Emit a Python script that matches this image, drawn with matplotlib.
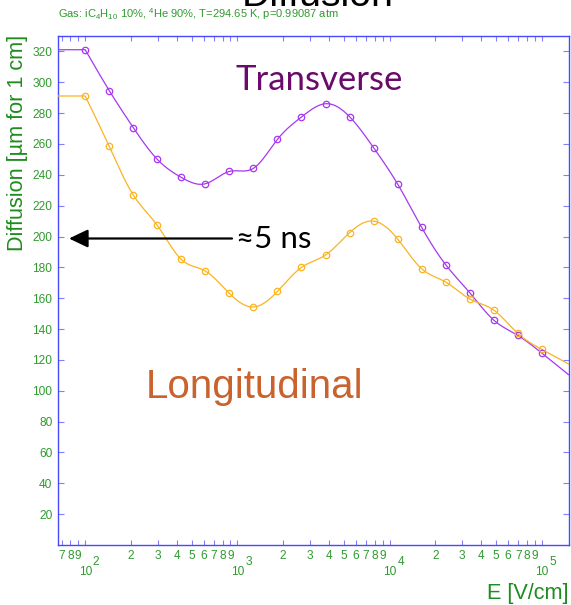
"""Diffusion vs E field (Garfield style plot), iC4H10/He gas mixture."""

import numpy as np
import matplotlib
matplotlib.use("Agg")
import matplotlib.pyplot as plt
from matplotlib.ticker import FixedLocator, NullFormatter, FixedFormatter
from matplotlib.transforms import blended_transform_factory

plt.rcParams['font.family'] = ['Liberation Sans', 'DejaVu Sans']
plt.rcParams['mathtext.fontset'] = 'custom'
plt.rcParams['mathtext.rm'] = 'Liberation Sans'
plt.rcParams['mathtext.it'] = 'Liberation Sans'

# data: 20 log-spaced fields 1e2 .. 1e5 V/cm
E_FIELD = np.logspace(2, 5, 20)
TRANSVERSE = [321.1, 294.6, 270.6, 250.0, 238.3, 234.2, 242.2, 244.2, 263.0, 277.5,
              286.1, 277.7, 257.6, 234.0, 205.9, 181.7, 163.6, 145.8, 135.9, 124.4]
LONGITUDINAL = [291.1, 258.4, 226.9, 207.2, 185.1, 177.6, 163.1, 154.3, 164.4, 180.0,
                188.0, 202.5, 210.0, 198.4, 179.1, 170.5, 159.5, 152.3, 137.2, 126.8]
Y_TICKS = list(range(20, 321, 20))
DECADES = [2, 3, 4, 5]

GREEN = '#2f9a2f'
DGREEN = '#1f8c1f'
C_TRANS = '#a638f0'
C_LONG = '#fbb322'
XMIN, XMAX = 100 / 1.5, 1e5 * 1.5


def natural_spline(x, y, xs):
    # cubic spline through the points, linear beyond the ends
    x = np.asarray(x, float); y = np.asarray(y, float)
    n = len(x); h = np.diff(x)
    A = np.zeros((n, n)); r = np.zeros(n)
    A[0, 0] = A[-1, -1] = 1
    for i in range(1, n - 1):
        A[i, i - 1] = h[i - 1]; A[i, i] = 2 * (h[i - 1] + h[i]); A[i, i + 1] = h[i]
        r[i] = 6 * ((y[i + 1] - y[i]) / h[i] - (y[i] - y[i - 1]) / h[i - 1])
    M = np.linalg.solve(A, r)
    out = np.empty_like(xs)
    for k, t in enumerate(xs):
        if t >= x[-1]:
            slope = (y[-1] - y[-2]) / h[-1] + h[-1] * (2 * M[-1] + M[-2]) / 6
            out[k] = y[-1] + slope * (t - x[-1]); continue
        i = min(max(np.searchsorted(x, t) - 1, 0), n - 2)
        a = x[i + 1] - t; b = t - x[i]
        out[k] = (M[i] * a**3 + M[i + 1] * b**3) / (6 * h[i]) + (y[i] / h[i] - M[i] * h[i] / 6) * a \
            + (y[i + 1] / h[i] - M[i + 1] * h[i] / 6) * b
    return out


fig = plt.figure(figsize=(5.71, 6.05), dpi=100)
ax = fig.add_axes([0.1023, 0.0992, 0.8935, 0.8413])

lx = np.log10(E_FIELD)
xs = np.linspace(lx[0], np.log10(XMAX), 400)
for vals, col in ((TRANSVERSE, C_TRANS), (LONGITUDINAL, C_LONG)):
    ys = natural_spline(lx, vals, xs)
    ax.plot(np.r_[XMIN, 10**xs], np.r_[vals[0], ys], color=col, lw=0.9, zorder=3)
    ax.plot(E_FIELD, vals, ls='none', marker='o', ms=4.6, mfc='none', mec=col, mew=0.9, zorder=4)

ax.set_xscale('log')
ax.set_xlim(XMIN, XMAX)
ax.set_ylim(0, 330)

# axis styling, ROOT-like
for sp in ax.spines.values():
    sp.set_color('#4848ff'); sp.set_linewidth(1.0)
ax.yaxis.set_major_locator(FixedLocator(Y_TICKS))
ax.yaxis.set_minor_locator(FixedLocator([]))
ax.tick_params(axis='y', which='major', direction='in', length=4, width=0.8, color='#8080ff',
               labelsize=8.6, labelcolor=GREEN, pad=4.4, right=True)

ax.xaxis.set_major_locator(FixedLocator([10**d for d in DECADES]))
ax.xaxis.set_major_formatter(NullFormatter())
minor = [m * 10**d for d in range(1, 5) for m in range(2, 10) if XMIN < m * 10**d < XMAX]
ax.xaxis.set_minor_locator(FixedLocator(minor))
ax.xaxis.set_minor_formatter(FixedFormatter([str(int(round(v / 10**np.floor(np.log10(v))))) for v in minor]))
ax.tick_params(axis='x', which='both', direction='in', length=3.6, width=0.8, color='#8080ff',
               labelsize=8.6, labelcolor=GREEN, pad=3.4, top=True)

trans = blended_transform_factory(ax.transData, ax.transAxes)
for d in DECADES:
    ax.annotate('10', xy=(10**d, 0), xycoords=trans, xytext=(0, -27), textcoords='offset pixels',
                ha='center', va='center', fontsize=8.6, color=GREEN)
    ax.annotate(str(d), xy=(10**d, 0), xycoords=trans, xytext=(11, -17), textcoords='offset pixels',
                ha='center', va='center', fontsize=8.6, color=GREEN)

fig.text(0.0315, 0.763, 'Diffusion [µm for 1 cm]', rotation=90, ha='center', va='center',
         fontsize=15.6, color=DGREEN)
fig.text(0.9958, 1 - 594 / 605, 'E [V/cm]', ha='right', va='center', fontsize=15.6, color=DGREEN)
fig.text(0.1023, 1 - 14.5 / 605, r'Gas: iC$_4$H$_{10}$ 10%, $^4$He 90%, T=294.65 K, p=0.99087 atm',
         ha='left', va='center', fontsize=8.0, color=GREEN)
fig.text(0.557, 1 - 6 / 605, 'Diffusion', ha='center', va='baseline', fontsize=28.3, color='black')

# annotations
ax.text(255, 207, 'Longitudinal', ha='center', va='baseline', fontsize=29, color='#c9622d',
        transform=None)
ax.text(319, 515, 'Transverse', ha='center', va='baseline', fontsize=25, color='#6a0a6a',
        family=['Lato', 'DejaVu Sans'], transform=None)
ax.annotate('', xy=(69, 366.5), xycoords='figure pixels', xytext=(232, 366.5),
            textcoords='figure pixels',
            arrowprops=dict(arrowstyle='-|>,head_length=1.15,head_width=0.55', color='black', lw=1.6,
                            shrinkA=0, shrinkB=0))
ax.text(274, 357, '≈5 ns', ha='center', va='baseline', fontsize=22.5, color='black',
        family=['Lato', 'DejaVu Sans'], transform=None)

fig.savefig('out.png', dpi=100)
